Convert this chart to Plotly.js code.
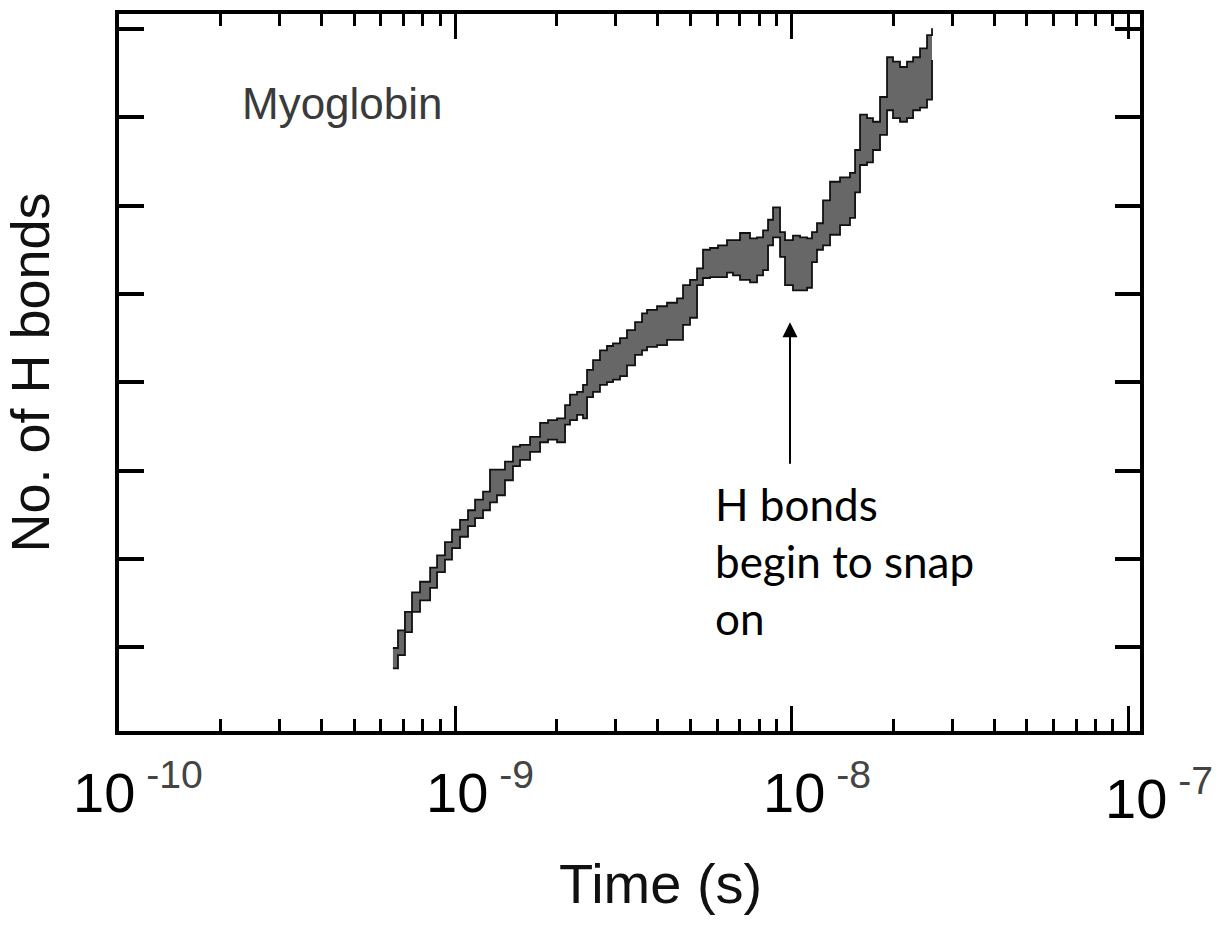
<!DOCTYPE html>
<html>
<head>
<meta charset="utf-8">
<script src="https://cdn.plot.ly/plotly-3.0.1.min.js"></script>
<style>html,body{margin:0;padding:0;background:#fff;}</style>
</head>
<body>
<div id="chart" style="width:1226px;height:940px;"></div>
<script>
// Time (s) of each sample of the trace
const time = [6.52e-10, 6.75e-10, 7.08e-10, 7.43e-10, 7.85e-10, 8.41e-10, 8.82e-10, 9.31e-10, 9.77e-10,
  1.032e-9, 1.090e-9, 1.144e-9, 1.208e-9, 1.267e-9, 1.329e-9, 1.404e-9, 1.483e-9, 1.556e-9, 1.667e-9,
  1.785e-9, 1.885e-9, 2.005e-9, 2.118e-9, 2.191e-9, 2.299e-9, 2.395e-9, 2.462e-9, 2.565e-9, 2.690e-9,
  2.822e-9, 2.941e-9, 3.085e-9, 3.236e-9, 3.420e-9, 3.587e-9, 3.712e-9, 3.975e-9, 4.256e-9, 4.558e-9,
  4.749e-9, 4.982e-9, 5.227e-9, 5.445e-9, 5.713e-9, 6.034e-9, 6.417e-9, 6.686e-9, 7.015e-9, 7.511e-9,
  7.882e-9, 8.212e-9, 8.498e-9, 8.794e-9, 9.225e-9, 9.545e-9, 1.008e-8, 1.058e-8, 1.110e-8, 1.148e-8,
  1.188e-8, 1.238e-8, 1.299e-8, 1.391e-8, 1.489e-8, 1.542e-8, 1.595e-8, 1.673e-8, 1.743e-8, 1.829e-8,
  1.919e-8, 1.999e-8, 2.097e-8, 2.200e-8, 2.293e-8, 2.405e-8, 2.523e-8, 2.611e-8];
// Upper edge of the fluctuating H-bond count band (arbitrary units)
const hbUpper = [0.99, 1.19, 1.40, 1.62, 1.74, 1.90, 2.04, 2.19, 2.33,
  2.44, 2.55, 2.67, 2.76, 3.01, 3.01, 3.10, 3.27, 3.29, 3.38,
  3.54, 3.57, 3.59, 3.74, 3.86, 3.89, 3.97, 4.14, 4.25, 4.36,
  4.41, 4.44, 4.50, 4.59, 4.68, 4.78, 4.82, 4.86, 4.90, 4.95,
  5.10, 5.16, 5.29, 5.50, 5.52, 5.55, 5.61, 5.61, 5.69, 5.63,
  5.64, 5.72, 5.84, 5.98, 5.70, 5.61, 5.66, 5.64, 5.63, 5.70,
  5.80, 6.06, 6.27, 6.32, 6.37, 6.63, 7.03, 6.99, 6.95, 7.23,
  7.68, 7.63, 7.57, 7.63, 7.68, 7.78, 7.93, 8.01];
// Lower edge of the band
const hbLower = [0.76, 0.91, 1.17, 1.40, 1.53, 1.67, 1.85, 1.99, 2.12,
  2.25, 2.37, 2.46, 2.55, 2.64, 2.72, 2.89, 3.05, 3.12, 3.21,
  3.32, 3.35, 3.32, 3.52, 3.57, 3.63, 3.59, 3.83, 3.89, 3.97,
  4.00, 4.03, 4.07, 4.19, 4.31, 4.36, 4.40, 4.42, 4.48, 4.48,
  4.65, 4.73, 5.10, 5.18, 5.19, 5.19, 5.24, 5.21, 5.16, 5.13,
  5.21, 5.27, 5.55, 5.64, 5.42, 5.10, 5.04, 5.04, 5.07, 5.36,
  5.50, 5.55, 5.67, 5.78, 5.86, 6.15, 6.46, 6.49, 6.63, 6.80,
  7.08, 6.99, 6.95, 6.99, 7.08, 7.11, 7.20, 7.65];

const xMajorTicks = [1e-10, 1e-9, 1e-8, 1e-7];
const xTickExponents = ["-10", "-9", "-8", "-7"];
const xMinorTicks = [];
[1e-10, 1e-9, 1e-8].forEach(d => { for (let k = 2; k <= 9; k++) xMinorTicks.push(d * k); });
const yTicks = [1, 2, 3, 4, 5, 6, 7, 8];

const traces = [
  {x: time, y: hbLower, type: 'scatter', mode: 'lines',
   line: {color: '#111', width: 1.8, shape: 'hv'}, hoverinfo: 'skip', showlegend: false},
  {x: time, y: hbUpper, type: 'scatter', mode: 'lines', fill: 'tonexty',
   fillcolor: '#676767', line: {color: '#111', width: 1.8, shape: 'hv'}, hoverinfo: 'skip', showlegend: false}
];

const labelShift = [-48, -31, -31, -25];
const labelYShift = [0, 0, 0, -6];
const annotations = xMajorTicks.map((v, i) => ({
  x: Math.log10(v), xref: 'x', y: 0, yref: 'paper',
  xanchor: 'left', yanchor: 'top', xshift: labelShift[i], yshift: -20 + labelYShift[i],
  showarrow: false,
  text: '10<sup><span style="color:#444"> ' + xTickExponents[i] + '</span></sup>',
  font: {family: 'Liberation Sans, Arial, sans-serif', size: 56, color: '#000'}
}));
annotations.push({
  x: 0.1185, xref: 'paper', y: 0.8745, yref: 'paper', xanchor: 'left', yanchor: 'middle',
  showarrow: false, text: 'Myoglobin',
  font: {family: 'Liberation Sans, Arial, sans-serif', size: 44, color: '#3a3a3a'}
});
annotations.push({
  x: 0.5818, xref: 'paper', y: 0.237, yref: 'paper', xanchor: 'left', yanchor: 'middle',
  align: 'left', showarrow: false, text: 'H bonds<br>begin to snap<br>on',
  font: {family: 'Lato, Carlito, sans-serif', size: 44, color: '#000'}
});
annotations.push({
  x: -8.0054, xref: 'x', y: 4.68, yref: 'y', text: '', showarrow: true,
  ax: 0, ay: 143, arrowhead: 2, arrowsize: 1.5, arrowwidth: 2, arrowcolor: '#000'
});
// x-axis title, placed below the tick labels as in the reference
annotations.push({
  x: 0.53, xref: 'paper', y: 0, yref: 'paper', xanchor: 'center', yanchor: 'middle',
  yshift: -152, showarrow: false, text: 'Time (s)',
  font: {family: 'Liberation Sans, Arial, sans-serif', size: 56, color: '#111'}
});

const layout = {
  width: 1226, height: 940,
  margin: {l: 119, r: 86, t: 14, b: 209, pad: 0},
  paper_bgcolor: '#fff', plot_bgcolor: '#fff',
  showlegend: false,
  xaxis: {
    type: 'log', range: [-10, -6.965], automargin: false,
    showline: true, linewidth: 4, linecolor: '#000', mirror: 'ticks',
    ticks: 'inside', ticklen: 25, tickwidth: 3, tickcolor: '#000',
    tickmode: 'array', tickvals: xMajorTicks, showticklabels: false,
    showgrid: false, zeroline: false,
    minor: {tickmode: 'array', tickvals: xMinorTicks, ticks: 'inside', ticklen: 12, tickwidth: 3, tickcolor: '#000', showgrid: false},
    title: {text: ''}
  },
  yaxis: {
    range: [0.05, 8.17], automargin: false,
    showline: true, linewidth: 4, linecolor: '#000', mirror: 'ticks',
    ticks: 'inside', ticklen: 25, tickwidth: 4, tickcolor: '#000',
    tickmode: 'array', tickvals: yTicks, showticklabels: false,
    showgrid: false, zeroline: false,
    title: {text: 'No. of H bonds', standoff: 50, font: {family: 'Liberation Sans, Arial, sans-serif', size: 54, color: '#111'}}
  },
  annotations: annotations
};

Plotly.newPlot('chart', traces, layout, {displayModeBar: false, staticPlot: true});
</script>
</body>
</html>
